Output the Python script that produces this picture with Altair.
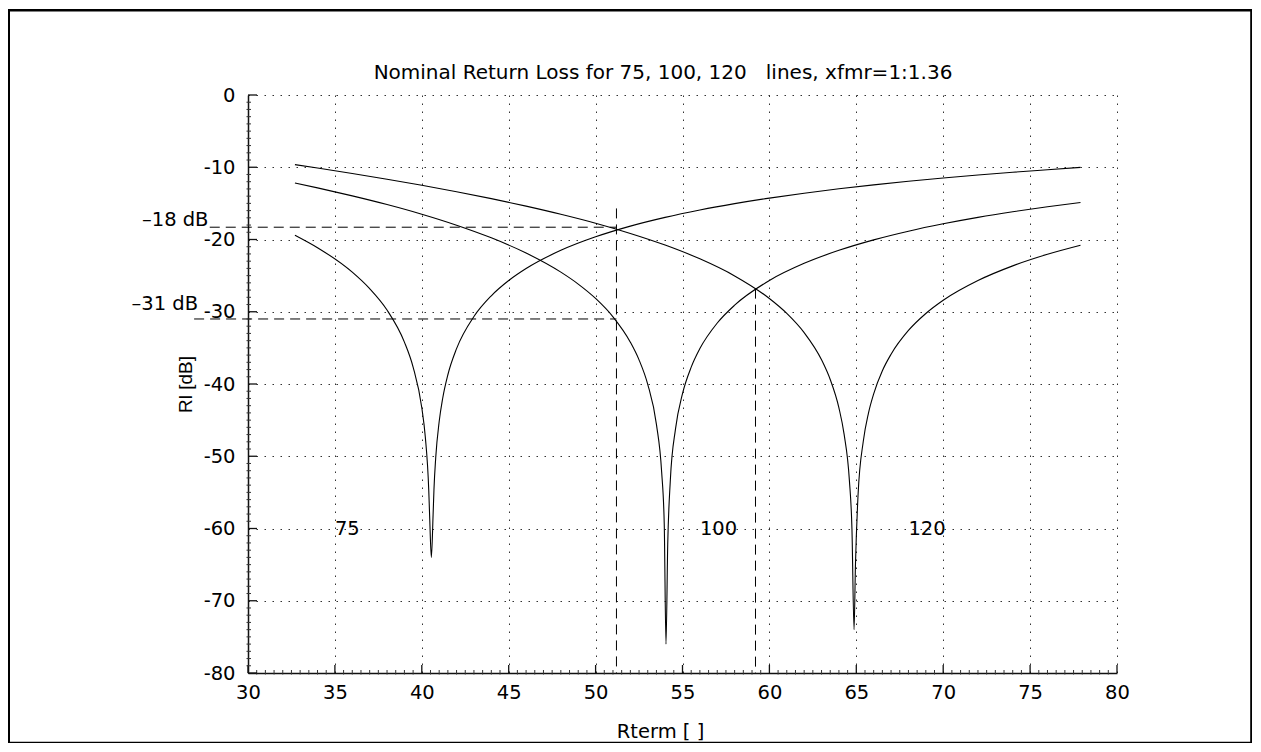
import altair as alt
import pandas as pd

# ---- curve data ----
x_75 = [32.7, 34, 36, 37, 38, 39, 39.5, 40, 40.2, 40.4, 40.45, 40.55, 40.65, 40.7, 40.8,
        41, 41.2, 41.5, 42, 43, 44, 45, 46, 48, 50, 52, 54, 56, 58, 60, 62, 64, 66,
        68, 70, 72, 74, 76, 77.9]
rl_75 = [-19.40, -21.13, -24.52, -26.80, -29.76, -34.20, -37.65, -43.29, -47.28, -54.69,
         -58.2, -64.0, -58.1, -54.6, -50.22, -45.19, -42.01, -38.72, -35.11, -30.66,
         -27.79, -25.68, -24.02, -21.50, -19.63, -18.15, -16.94, -15.92, -15.04, -14.27,
         -13.59, -12.98, -12.44, -11.94, -11.49, -11.07, -10.69, -10.34, -10.02]

x_100 = [32.7, 34, 36, 38, 40, 42, 44, 46, 48, 49, 50, 51, 52, 52.5, 53, 53.5, 53.8,
         53.95, 54.05, 54.15, 54.3, 54.6, 55, 55.5, 56, 57, 58, 60, 62, 64, 66, 68, 70,
         72, 74, 76, 77.9]
rl_100 = [-12.17, -12.85, -13.96, -15.16, -16.50, -18.02, -19.77, -21.87, -24.52, -26.17,
          -28.16, -30.70, -34.21, -36.66, -40.05, -45.58, -52.16, -59.40, -76.0, -62.17,
          -53.31, -46.17, -41.33, -37.67, -35.10, -31.56, -29.09, -25.67, -23.30, -21.50,
          -20.05, -18.85, -17.83, -16.94, -16.16, -15.46, -14.87]

x_120 = [32.7, 34, 36, 38, 40, 42, 44, 46, 48, 50, 52, 54, 56, 58, 60, 61, 62, 63, 63.5,
         64, 64.3, 64.6, 64.75, 64.87, 64.95, 65.1, 65.4, 65.7, 66, 66.5, 67, 68, 69, 70,
         72, 74, 76, 77.9]
rl_120 = [-9.64, -10.11, -10.87, -11.66, -12.50, -13.39, -14.34, -15.38, -16.51, -17.75,
          -19.16, -20.77, -22.68, -25.04, -28.17, -30.23, -32.89, -36.65, -39.38, -43.30,
          -46.98, -53.27, -60.06, -74.0, -65.2, -55.39, -47.96, -44.02, -41.36, -38.17,
          -35.88, -32.59, -30.24, -28.41, -25.68, -23.65, -22.05, -20.80]

# ---- ticks ----
x_ticks = [30, 35, 40, 45, 50, 55, 60, 65, 70, 75, 80]
y_ticks = [-80, -70, -60, -50, -40, -30, -20, -10, 0]
x_minor = [v / 2 for v in range(61, 160) if v % 10 != 0]
y_minor = [v for v in range(-79, 0) if v % 10 != 0]

# ---- dashed reference lines ----
hline_y = [-18.3, -31.0]
hline_x1 = [27.8, 26.9]
hline_x2 = [51.2, 51.2]
vline_x = [51.2, 59.2]
vline_y1 = [-15.7, -26.8]
vline_y2 = [-80, -80]

# ---- annotations ----
curve_labels = ["75", "100", "120"]
curve_label_x = [35, 56, 68]
curve_label_y = [-60, -60, -60]
db_labels = ["\u201318 dB", "\u201331 dB"]
db_label_x = [23.9, 23.3]
db_label_y = [-17.3, -28.9]

TITLE = "Nominal Return Loss for 75, 100, 120\u00a0\u00a0\u00a0lines, xfmr=1:1.36"
FONT = "DejaVu Sans"
FS = 19.5

W, H = 869, 578

curves = pd.concat([
    pd.DataFrame({"Rterm": x_75, "RL": rl_75, "line": "75"}),
    pd.DataFrame({"Rterm": x_100, "RL": rl_100, "line": "100"}),
    pd.DataFrame({"Rterm": x_120, "RL": rl_120, "line": "120"}),
], ignore_index=True)

xs = alt.Scale(domain=[30, 80], nice=False, zero=False)
ys = alt.Scale(domain=[-80, 0], nice=False, zero=False)

x_axis = alt.Axis(values=x_ticks, title="Rterm [ ]", grid=True, gridDash=[1.5, 6.5],
                  gridColor="#333333", gridWidth=1, ticks=False, tickSize=0,
                  domain=True, domainColor="#111111", domainWidth=1.5,
                  labelFont=FONT, labelFontSize=FS, labelColor="black", labelPadding=10,
                  labelExpr="'' + datum.value", labelFlush=False, labelOverlap=False,
                  titleFont=FONT, titleFontSize=FS, titleFontWeight="normal",
                  titleColor="black", titleX=412, titleY=58, titleAlign="center",
                  titleBaseline="middle")
y_axis = alt.Axis(values=y_ticks, title="Rl [dB]", grid=True, gridDash=[1.5, 6.5],
                  gridColor="#333333", gridWidth=1, ticks=False, tickSize=0,
                  domain=True, domainColor="#111111", domainWidth=1.5,
                  labelFont=FONT, labelFontSize=FS, labelColor="black", labelPadding=13,
                  labelExpr="'' + datum.value", labelFlush=False, labelOverlap=False,
                  titleFont="Liberation Sans", titleFontSize=19, titleFontWeight="normal",
                  titleColor="black", titleAngle=270, titleX=-63, titleY=289,
                  titleAlign="center", titleBaseline="middle")


def X(field):
    return alt.X(field, scale=xs, axis=x_axis)


def Y(field):
    return alt.Y(field, scale=ys, axis=y_axis)


frame = alt.Chart(pd.DataFrame({"a": [0]})).mark_rect(
    fillOpacity=0, stroke="black", strokeWidth=2.6
).encode(x=alt.value(-239.3), x2=alt.value(1003.5), y=alt.value(-84.7), y2=alt.value(648))

title = alt.Chart(pd.DataFrame({"t": [TITLE]})).mark_text(
    font=FONT, fontSize=20, align="center", baseline="alphabetic", color="black"
).encode(x=alt.value(415), y=alt.value(-16), text="t:N")

lines = alt.Chart(curves).mark_line(color="black", strokeWidth=1.1, interpolate="monotone").encode(
    x=X("Rterm:Q"), y=Y("RL:Q"), detail="line:N",
)

hl = alt.Chart(pd.DataFrame({"y": hline_y, "x1": hline_x1, "x2": hline_x2})).mark_rule(
    color="black", strokeWidth=1, strokeDash=[10, 6]
).encode(x=X("x1:Q"), x2="x2:Q", y=Y("y:Q"))

vl = alt.Chart(pd.DataFrame({"x": vline_x, "y1": vline_y1, "y2": vline_y2})).mark_rule(
    color="black", strokeWidth=1, strokeDash=[10, 6]
).encode(x=X("x:Q"), y=Y("y1:Q"), y2="y2:Q")

xt_major = alt.Chart(pd.DataFrame({"x": x_ticks})).mark_rule(color="#111111", strokeWidth=1.3).encode(
    x=X("x:Q"), y=alt.value(H), y2=alt.value(H - 8))
xt_minor = alt.Chart(pd.DataFrame({"x": x_minor})).mark_rule(color="#333333", strokeWidth=1).encode(
    x=X("x:Q"), y=alt.value(H + 1.5), y2=alt.value(H - 3))
yt_major = alt.Chart(pd.DataFrame({"y": y_ticks})).mark_rule(color="#111111", strokeWidth=1.3).encode(
    y=Y("y:Q"), x=alt.value(0), x2=alt.value(9))
yt_minor = alt.Chart(pd.DataFrame({"y": y_minor})).mark_rule(color="#333333", strokeWidth=1).encode(
    y=Y("y:Q"), x=alt.value(-1.5), x2=alt.value(3))

clab = alt.Chart(pd.DataFrame({"t": curve_labels, "x": curve_label_x, "y": curve_label_y})).mark_text(
    font=FONT, fontSize=FS, align="left", baseline="middle", color="black"
).encode(x=X("x:Q"), y=Y("y:Q"), text="t:N")

dblab = alt.Chart(pd.DataFrame({"t": db_labels, "x": db_label_x, "y": db_label_y})).mark_text(
    font=FONT, fontSize=FS, align="left", baseline="middle", color="black"
).encode(x=X("x:Q"), y=Y("y:Q"), text="t:N")

chart = alt.layer(lines, frame, title, hl, vl, xt_major, xt_minor, yt_major, yt_minor, clab, dblab).properties(
    width=W, height=H,
    autosize=alt.AutoSizeParams(type="none"),
    padding={"left": 240, "top": 87, "right": 135, "bottom": 70},
    background="white",
).configure_view(stroke="transparent")

chart.save("out.html", embed_options={"renderer": "svg", "actions": False})
